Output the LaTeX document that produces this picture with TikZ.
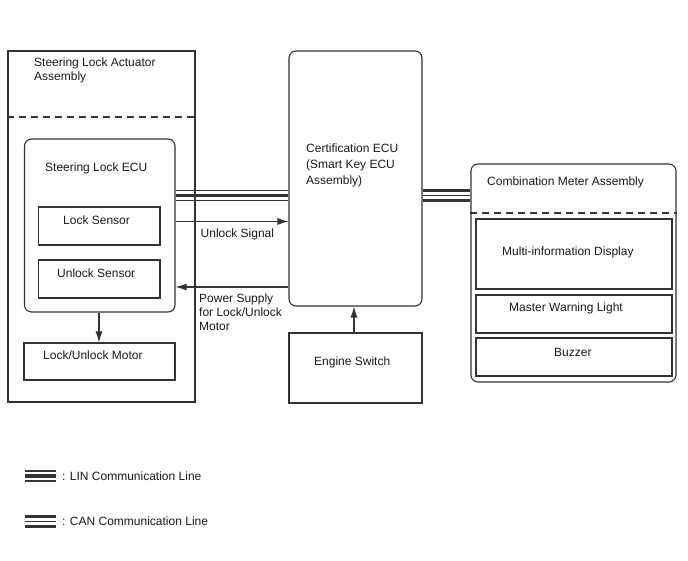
\documentclass[tikz,border=0pt]{standalone}
\usepackage{fontspec}
\setmainfont{Liberation Sans}
\usetikzlibrary{arrows.meta}
\definecolor{ln}{HTML}{333333}
\definecolor{tx}{HTML}{1A1A1A}
\tikzset{
  box/.style={draw=ln, line width=1.1pt, rectangle, inner sep=0pt},
  rbox/.style={box, rounded corners=7pt},
  lbl/.style={anchor=base west, inner sep=0pt, text=tx, font=\fontsize{12}{14}\selectfont},
  arr/.style={draw=ln, line width=1.1pt, -{Latex[length=11pt,width=7pt]}},
  thinl/.style={draw=ln, line width=1.1pt},
  thickl/.style={draw=ln, line width=3.2pt},
  dsh/.style={draw=ln, line width=1.2pt, dash pattern=on 7pt off 5pt},
}
\begin{document}
\begin{tikzpicture}[x=1pt,y=-1pt]
\useasboundingbox (0,0) rectangle (688,560);
% Steering lock actuator assembly
\node[box, minimum width=187pt, minimum height=351pt] (sla) at (101.5,226.5) {};
\draw[dsh] (sla.west |- 0,117) -- (sla.east |- 0,117);
\node[lbl] (slat1) at (34,66) {Steering Lock Actuator};
\node[lbl] (slat2) at (34,80) {Assembly};
\node[rbox, minimum width=150.5pt, minimum height=173pt] (ecu) at (99.75,225.5) {};
\node[lbl] (ecut) at (45,171.5) {Steering Lock ECU};
\node[box, minimum width=121.3pt, minimum height=38pt] (ls) at (99.35,226) {};
\node[lbl] (lst) at (63,224.5) {Lock Sensor};
\node[box, minimum width=121.3pt, minimum height=38pt] (us) at (99.35,279) {};
\node[lbl] (ust) at (57,277) {Unlock Sensor};
\node[box, minimum width=151pt, minimum height=37pt] (mot) at (99.5,361.5) {};
\node[lbl] (mott) at (43,359.5) {Lock/Unlock Motor};
\draw[arr] (ecu.south -| 99,0) -- (mot.north -| 99,0);
% Certification ECU
\node[rbox, minimum width=133pt, minimum height=255pt] (cert) at (355.5,178.5) {};
\node[lbl] (certt1) at (306,152) {Certification ECU};
\node[lbl] (certt2) at (306,168) {(Smart Key ECU};
\node[lbl] (certt3) at (306,184) {Assembly)};
\node[box, minimum width=133pt, minimum height=70pt] (eng) at (355.5,368) {};
\node[lbl] (engt) at (314,365) {Engine Switch};
\draw[arr] (eng.north -| 354,0) -- (cert.south -| 354,0);
% LIN between ECU and cert
\draw[thinl] (ecu.east |- 0,190.5) -- (cert.west |- 0,190.5);
\draw[thickl] (ecu.east |- 0,195.5) -- (cert.west |- 0,195.5);
\draw[thinl] (ecu.east |- 0,200.5) -- (cert.west |- 0,200.5);
% signals
\draw[arr] (ecu.east |- 0,221.5) -- (cert.west |- 0,221.5);
\node[lbl] (sig) at (200.5,237.5) {Unlock Signal};
\draw[arr] (cert.west |- 0,287) -- (ecu.east |- 0,287);
\node[lbl] (ps1) at (199,302) {Power Supply};
\node[lbl] (ps2) at (199,316) {for Lock/Unlock};
\node[lbl] (ps3) at (199,330) {Motor};
% Combination meter
\node[rbox, minimum width=205pt, minimum height=218pt] (cm) at (573.5,273) {};
\draw[dsh] (cm.west |- 0,213) -- (cm.east |- 0,213);
\node[lbl] (cmt) at (487,185.5) {Combination Meter Assembly};
\node[box, minimum width=196pt, minimum height=70pt] (mid) at (574,254) {};
\node[lbl] (midt) at (502,255) {Multi-information Display};
\node[box, minimum width=196pt, minimum height=38pt] (mwl) at (574,314) {};
\node[lbl] (mwlt) at (509,311) {Master Warning Light};
\node[box, minimum width=196pt, minimum height=38pt] (buz) at (574,357) {};
\node[lbl] (buzt) at (554,356) {Buzzer};
% CAN between cert and meter
\draw[thickl] (cert.east |- 0,190.5) -- (cm.west |- 0,190.5);
\draw[thinl] (cert.east |- 0,195.5) -- (cm.west |- 0,195.5);
\draw[thickl] (cert.east |- 0,200.5) -- (cm.west |- 0,200.5);
% legend
\coordinate (la) at (24.5,476);
\coordinate (lb) at (56,476);
\draw[thinl] ([yshift=-5pt]la) -- ([yshift=-5pt]lb);
\draw[thickl] (la) -- (lb);
\draw[thinl] ([yshift=5pt]la) -- ([yshift=5pt]lb);
\node[lbl] (lint) at (62,480) {: LIN Communication Line};
\coordinate (ca) at (24.5,521.5);
\coordinate (cb) at (56,521.5);
\draw[thickl] ([yshift=-5pt]ca) -- ([yshift=-5pt]cb);
\draw[thinl] (ca) -- (cb);
\draw[thickl] ([yshift=5pt]ca) -- ([yshift=5pt]cb);
\node[lbl] (cant) at (62,525.5) {: CAN Communication Line};
\end{tikzpicture}
\end{document}
